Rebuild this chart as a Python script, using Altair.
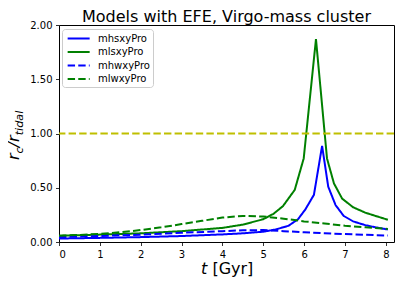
import altair as alt
import pandas as pd

# ---- data ----
series = ["mhsxyPro", "mlsxyPro", "mhwxyPro", "mlwxyPro"]
series_colors = ["#0000ff", "#008000", "#0000ff", "#008000"]
series_dashes = [[1, 0], [1, 0], [7.4, 3.2], [7.4, 3.2]]

t_mhs = [0, 1, 2, 3, 4, 4.5, 5, 5.3, 5.62, 5.85, 6.03, 6.24, 6.44, 6.59, 6.77, 6.97, 7.2, 7.5, 7.75, 8.05]
r_mhs = [0.032, 0.038, 0.045, 0.055, 0.07, 0.08, 0.095, 0.115, 0.15, 0.21, 0.30, 0.435, 0.886, 0.51, 0.34, 0.24, 0.19, 0.155, 0.135, 0.115]

t_mls = [0, 1, 2, 3, 4, 4.5, 5, 5.25, 5.48, 5.77, 5.99, 6.29, 6.56, 6.73, 6.93, 7.2, 7.5, 7.75, 8.05]
r_mls = [0.058, 0.068, 0.08, 0.10, 0.13, 0.16, 0.21, 0.26, 0.33, 0.48, 0.77, 1.87, 0.77, 0.54, 0.40, 0.32, 0.27, 0.24, 0.205]

t_mhw = [0, 1, 2, 3, 4, 4.5, 5, 5.5, 6, 6.5, 7, 7.5, 8.05]
r_mhw = [0.045, 0.055, 0.068, 0.085, 0.10, 0.108, 0.11, 0.10, 0.09, 0.08, 0.073, 0.066, 0.06]

t_mlw = [0, 0.5, 1, 1.5, 2, 2.5, 3, 3.5, 4, 4.5, 5, 5.5, 6, 6.5, 7, 7.5, 8.05]
r_mlw = [0.058, 0.065, 0.075, 0.09, 0.11, 0.135, 0.165, 0.195, 0.225, 0.24, 0.235, 0.215, 0.19, 0.17, 0.15, 0.135, 0.12]

hline_value = [1.0]
x_ticks = [0, 1, 2, 3, 4, 5, 6, 7, 8]
y_ticks = [0, 0.25, 0.5, 0.75, 1.0, 1.25, 1.5, 1.75, 2.0]

title_text = "Models with EFE, Virgo-mass cluster"
ylabel_parts = ["r", "c", "/", "r", "tidal"]
xlabel_parts = ["t", "[Gyr]"]

# ---- build table ----
rows = []
for name, ts, rs in zip(series, [t_mhs, t_mls, t_mhw, t_mlw], [r_mhs, r_mls, r_mhw, r_mlw]):
    for t, r in zip(ts, rs):
        rows.append({"series": name, "t": t, "r": r})
df = pd.DataFrame(rows)

FONT = "DejaVu Sans"
xscale = alt.Scale(domain=[0, 8.2], nice=False, zero=False)
yscale = alt.Scale(domain=[0, 2.0], nice=False)

legend = alt.Legend(
    title=None, orient="none", legendX=3, legendY=4, padding=3,
    symbolType="M-0.7,0H3.3", symbolSize=121, symbolStrokeWidth=2,
    labelOffset=20, rowPadding=1.5, fillColor="rgba(255,255,255,0.8)",
    strokeColor="#cccccc", cornerRadius=3, labelFont=FONT, labelFontSize=10,
    labelColor="black",
)

lines = alt.Chart(df).mark_line(strokeWidth=2, clip=True).encode(
    x=alt.X("t:Q", scale=xscale,
            axis=alt.Axis(values=x_ticks, title=None, format="d")),
    y=alt.Y("r:Q", scale=yscale,
            axis=alt.Axis(values=y_ticks, title=None, format=".2f")),
    color=alt.Color("series:N", scale=alt.Scale(domain=series, range=series_colors), legend=legend),
    strokeDash=alt.StrokeDash("series:N", scale=alt.Scale(domain=series, range=series_dashes), legend=legend),
    order=alt.Order("t:Q"),
)

hline = alt.Chart(pd.DataFrame({"y": hline_value})).mark_rule(
    color="#bfbf00", strokeWidth=2, strokeDash=[7.4, 3.2]
).encode(y=alt.Y("y:Q", scale=yscale))


def txt(s, x, y, size, italic, angle=0):
    return alt.Chart(pd.DataFrame({"s": [s]})).mark_text(
        font=FONT, fontSize=size, fontStyle="italic" if italic else "normal",
        align="left", baseline="alphabetic", angle=angle, color="black",
    ).encode(text="s:N", x=alt.value(x), y=alt.value(y))


# y label pieces, stacked bottom-to-top
ylab = [
    txt(ylabel_parts[0], -40.0, 135.0, 16, True, 270),
    txt(ylabel_parts[1], -36.5, 128.4, 11.2, True, 270),
    txt(ylabel_parts[2], -40.0, 122.3, 16, True, 270),
    txt(ylabel_parts[3], -40.0, 116.9, 16, True, 270),
    txt(ylabel_parts[4], -36.5, 110.3, 11.2, True, 270),
]
xlab = [
    txt(xlabel_parts[0], 142.0, 249.0, 16, True),
    txt(xlabel_parts[1], 153.4, 249.0, 16, False),
]

chart = alt.layer(lines, hline, *ylab, *xlab).properties(
    width=335, height=217,
    title=alt.TitleParams(title_text, font=FONT, fontSize=16, fontWeight="normal",
                          color="black", offset=-5),
    autosize=alt.AutoSizeParams(type="none"),
    padding={"left": 51, "top": 17, "right": 2, "bottom": 38},
).configure_view(
    stroke="black", strokeWidth=1
).configure_axis(
    grid=False, domain=False, labelFont=FONT, labelFontSize=10, labelColor="black",
    tickColor="black", tickSize=3.5, tickWidth=0.8, labelPadding=3.5,
)

chart.save("out.html", embed_options={"renderer": "svg", "actions": False})
